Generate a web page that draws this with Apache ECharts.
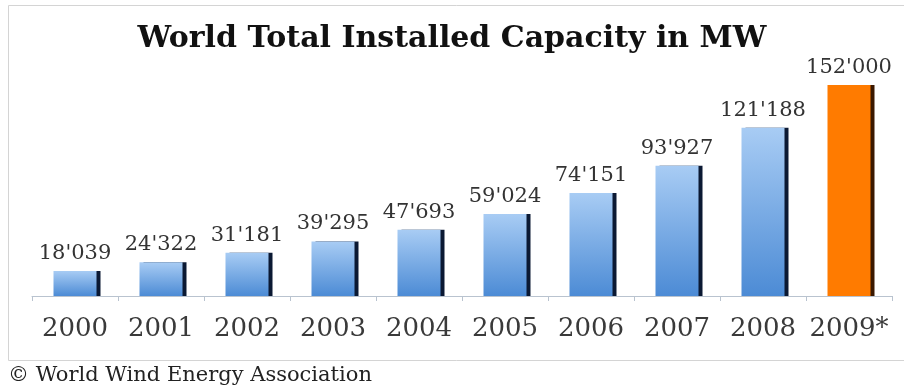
<!DOCTYPE html>
<html>
<head>
<meta charset="utf-8">
<script src="https://cdn.jsdelivr.net/npm/echarts@6/dist/echarts.min.js"></script>
<style>
  html, body { margin: 0; padding: 0; background: #ffffff; }
  #chart { width: 904px; height: 387px; }
</style>
</head>
<body>
<div id="chart"></div>
<script>
// Installed wind capacity, MW (2009 is a forecast)
const years = ['2000', '2001', '2002', '2003', '2004', '2005', '2006', '2007', '2008', '2009*'];
const capacity = [18039, 24322, 31181, 39295, 47693, 59024, 74151, 93927, 121188, 152000];
const forecastIndex = 9;

function fmt(v) {
  return String(v).replace(/\B(?=(\d{3})+(?!\d))/g, "'");
}

const blueFill = {
  type: 'linear', x: 0, y: 0, x2: 0, y2: 1,
  colorStops: [{ offset: 0, color: '#a8ccf4' }, { offset: 1, color: '#4c8bd5' }]
};

const barData = capacity.map((v, i) => ({
  value: v,
  itemStyle: i === forecastIndex
    ? { color: '#ff7b00', shadowColor: '#3a1800' }
    : { color: blueFill, shadowColor: '#0b1933' }
}));

const chart = echarts.init(document.getElementById('chart'));
chart.setOption({
  backgroundColor: '#ffffff',
  animation: false,
  title: {
    text: 'World Total Installed Capacity in MW',
    left: 'center',
    top: 19,
    textStyle: { fontFamily: 'DejaVu Serif', fontWeight: 'bold', fontSize: 30, color: '#111' }
  },
  grid: { left: 32, right: 12, top: 74, bottom: 91 },
  xAxis: {
    type: 'category',
    data: years,
    axisLine: { lineStyle: { color: '#b9c3cf', width: 1 } },
    axisTick: { show: true, length: 5, lineStyle: { color: '#b9c3cf' } },
    axisLabel: { interval: 0, margin: 20, fontFamily: 'DejaVu Serif', fontSize: 26, color: '#3a3a3a' }
  },
  yAxis: {
    type: 'value', min: 0, max: 160000,
    show: false,
    splitLine: { show: false }
  },
  series: [{
    type: 'bar',
    data: barData,
    barWidth: 43,
    itemStyle: { shadowBlur: 0, shadowOffsetX: 4, shadowOffsetY: 0 },
    label: {
      show: true,
      position: 'top',
      distance: 7,
      fontFamily: 'DejaVu Serif',
      fontSize: 21,
      color: '#333',
      formatter: p => fmt(p.value)
    }
  }],
  graphic: [
    {
      type: 'rect',
      shape: { x: 8.5, y: 5.5, width: 900, height: 355 },
      style: { fill: null, stroke: '#d4d4d4', lineWidth: 1 },
      silent: true
    },
    {
      type: 'text',
      left: 8, top: 365,
      style: { text: '© World Wind Energy Association', font: '21px "DejaVu Serif"', fill: '#222' }
    }
  ]
});
</script>
</body>
</html>
